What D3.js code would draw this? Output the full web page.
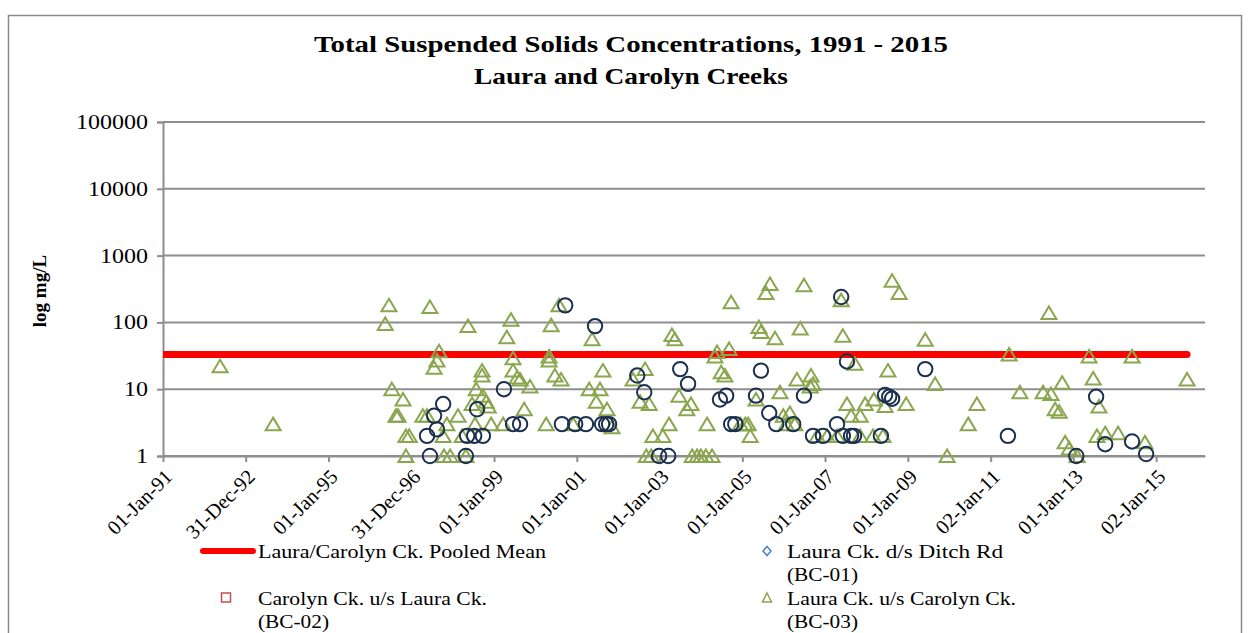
<!DOCTYPE html>
<html>
<head>
<meta charset="utf-8">
<script src="https://cdn.jsdelivr.net/npm/d3@7"></script>
<style>
  html, body { margin: 0; padding: 0; background: #fff; }
  svg { display: block; }
  text { font-family: "Liberation Serif", "DejaVu Serif", serif; fill: #000; }
</style>
</head>
<body>
<svg id="chart" width="1250" height="633"></svg>
<script>
// ---------------- DATA ----------------
const titleLines = ["Total Suspended Solids Concentrations, 1991 - 2015", "Laura and Carolyn Creeks"];
const yAxisTitle = "log mg/L";
const yTickValues = [1, 10, 100, 1000, 10000, 100000];
const xTickDates = ["1991-01-01","1992-12-31","1995-01-01","1996-12-31","1999-01-01","2001-01-01",
                    "2003-01-01","2005-01-01","2007-01-01","2009-01-01","2011-01-02","2013-01-01","2015-01-02"];
const xTickLabels = ["01-Jan-91","31-Dec-92","01-Jan-95","31-Dec-96","01-Jan-99","01-Jan-01",
                     "01-Jan-03","01-Jan-05","01-Jan-07","01-Jan-09","02-Jan-11","01-Jan-13","02-Jan-15"];
const xDomain = ["1991-01-01", "2016-03-08"];

// Pooled mean (mg/L) across the sampling period
const pooledMeanValue = 33;
const pooledMeanSpan = [1991.0, 2015.75];   // decimal years

// Laura Ck. d/s Ditch Rd (BC-01): sample dates (decimal years) and TSS (mg/L)
const bc01Year = [1997.38,1997.45,1997.55,1997.62,1997.77,1998.32,1998.35,1998.52,1998.59,1998.73,
                  1999.24,1999.46,1999.63,2000.64,2000.72,2000.96,2001.22,2001.44,2001.61,2001.71,
                  2001.78,2002.46,2002.63,2002.99,2003.21,2003.50,2003.69,2004.46,2004.61,2004.73,
                  2004.83,2005.33,2005.45,2005.65,2005.82,2006.23,2006.49,2006.71,2006.95,2007.29,
                  2007.39,2007.43,2007.53,2007.63,2007.70,2008.35,2008.45,2008.55,2008.62,2009.42,
                  2011.42,2013.07,2013.55,2013.77,2014.42,2014.76];
const bc01Value = [2,1,4,2.5,6,1,2,2,5,2,
                   10,3,3,3,180,3,3,88,3,3,
                   3,16,9,1,1,20,12,7,8,3,
                   3,8,19,4.4,3,3,8,2,2,3,
                   240,2,26,2,2,2,8.2,7.7,7.2,20,
                   2,1,7.7,1.5,1.65,1.07];

// Carolyn Ck. u/s Laura Ck. (BC-02): no samples plotted
const bc02Year = [];
const bc02Value = [];

// Laura Ck. u/s Carolyn Ck. (BC-03): sample dates (decimal years) and TSS (mg/L)
const bc03Year = [1992.38,1993.66,1996.37,1996.46,1996.53,1996.63,1996.68,1996.80,1996.87,1996.95,
                  1996.87,1997.28,1997.38,1997.45,1997.55,1997.62,1997.67,1997.77,1997.86,1997.79,
                  1997.94,1998.13,1998.23,1998.32,1998.37,1998.47,1998.57,1998.54,1998.71,1998.71,
                  1998.73,1998.81,1998.86,1998.93,1999.22,1999.31,1999.41,1999.46,1999.46,1999.56,
                  1999.63,1999.73,1999.87,2000.26,2000.33,2000.33,2000.38,2000.57,2000.47,2000.62,
                  2000.91,2001.30,2001.37,2001.47,2001.56,2001.63,2001.73,2001.85,2002.36,2002.53,
                  2002.65,2002.75,2002.80,2002.68,2002.84,2003.08,2003.23,2003.30,2003.37,2003.47,
                  2003.66,2003.76,2003.79,2003.91,2004.00,2004.12,2004.27,2004.15,2004.34,2004.39,
                  2004.49,2004.58,2004.68,2004.73,2004.95,2005.07,2005.14,2005.19,2005.33,2005.40,
                  2005.45,2005.57,2005.67,2005.79,2005.91,2005.99,2006.06,2006.15,2006.27,2006.32,
                  2006.40,2006.49,2006.64,2006.66,2006.71,2006.81,2007.05,2007.29,2007.39,2007.43,
                  2007.53,2007.63,2007.72,2007.85,2007.85,2007.97,2008.16,2008.18,2008.40,2008.45,
                  2008.52,2008.62,2008.79,2008.96,2009.42,2009.66,2009.95,2010.46,2010.67,2011.45,
                  2011.71,2012.27,2012.41,2012.46,2012.56,2012.66,2012.73,2012.80,2012.90,2013.09,
                  2013.38,2013.48,2013.57,2013.62,2013.77,2014.08,2014.42,2014.73,2015.75];
const bc03Value = [22,3,95,180,10,4,4,7,2,2,
                   1,4,4,170,21,27,37,2,3,1,
                   1,4,2,1,88,6,10,3,19,16,
                   8,6.5,5.5,3,3,60,110,29,19,15,
                   14,5,11,3,31,27,91,180,16,14,
                   3,10,56,6.5,10,19,5,2.7,14,6.5,
                   20,6,1,1,2,2,3,65,56,8,
                   5,6,1,1,1,1,1,3,31,36,
                   18,16,40,200,3,3,3,2,7,85,
                   72,275,375,58,9,4,3,4.4,3,14,
                   81,360,11,16,12,2,2,2,215,63,
                   6,4,24,4,2,6,2,7,2,5.6,
                   19,420,275,6,55,12,1,3,6,33,
                   9,9,138,8.5,5,4.6,12.5,1.6,1.3,1,
                   31,14.5,2,5.5,2.2,2.2,31,1.6,14];

const legendItems = [
  {label: ["Laura/Carolyn Ck. Pooled Mean"], kind: "line"},
  {label: ["Laura Ck. d/s Ditch Rd", "(BC-01)"], kind: "diamond"},
  {label: ["Carolyn Ck. u/s Laura Ck.", "(BC-02)"], kind: "square"},
  {label: ["Laura Ck. u/s Carolyn Ck.", "(BC-03)"], kind: "triangle"}
];

// ---------------- HELPERS ----------------
function decYearToDate(y) {
  const yr = Math.floor(y);
  const start = new Date(yr, 0, 1), end = new Date(yr + 1, 0, 1);
  return new Date(start.getTime() + (y - yr) * (end - start));
}
const parse = d3.timeParse("%Y-%m-%d");
function fitText(sel, w) {
  sel.attr("textLength", w).attr("lengthAdjust", "spacingAndGlyphs");
}

// ---------------- LAYOUT ----------------
const svg = d3.select("#chart");
const plot = {left: 163, right: 1205, top: 122, bottom: 456};

const x = d3.scaleTime().domain(xDomain.map(parse)).range([plot.left, plot.right]);
const y = d3.scaleLog().domain([1, 100000]).range([plot.bottom, plot.top]);

const GREEN = "#8AA64E", NAVY = "#1B2F4F", GRID = "#8E8E8E";

// outer border
svg.append("rect").attr("x", 8.5).attr("y", 15.5).attr("width", 1233).attr("height", 640)
  .attr("fill", "none").attr("stroke", "#8a8a8a").attr("stroke-width", 1.5);

// title
const titleWidths = [634, 314];
titleLines.forEach((t, i) => {
  svg.append("text").attr("x", 631 - titleWidths[i] / 2).attr("y", 52 + i * 32)
    .attr("font-size", 24).attr("font-weight", "bold").text(t)
    .call(fitText, titleWidths[i]);
});

// y gridlines
svg.append("g").selectAll("line").data(yTickValues).join("line")
  .attr("x1", plot.left).attr("x2", plot.right)
  .attr("y1", d => y(d)).attr("y2", d => y(d))
  .attr("stroke", GRID).attr("stroke-width", 2);

// y axis
const yAxis = svg.append("g").attr("transform", `translate(${plot.left},0)`)
  .call(d3.axisLeft(y).tickValues(yTickValues).tickFormat(d3.format("d")).tickSize(6).tickPadding(9));
yAxis.select(".domain").attr("stroke", GRID).attr("stroke-width", 2);
yAxis.selectAll(".tick line").attr("stroke", GRID).attr("stroke-width", 2);
yAxis.selectAll(".tick text").attr("font-size", 20)
  .attr("font-family", "'Liberation Serif', serif").attr("fill", "#000")
  .each(function(d) {
    const n = String(d3.format("d")(d)).length;
    d3.select(this).attr("textLength", 12 * n).attr("lengthAdjust", "spacingAndGlyphs");
  });

// y axis title
svg.append("text").attr("transform", "translate(46,291) rotate(-90)").attr("text-anchor", "middle")
  .attr("font-size", 19).attr("font-weight", "bold").text(yAxisTitle);

// x axis
const xAxis = svg.append("g").attr("transform", `translate(0,${plot.bottom})`)
  .call(d3.axisBottom(x).tickValues(xTickDates.map(parse))
    .tickFormat((d, i) => xTickLabels[i]).tickSize(6).tickSizeOuter(0));
xAxis.select(".domain").attr("stroke", GRID).attr("stroke-width", 2);
xAxis.selectAll(".tick line").attr("stroke", GRID).attr("stroke-width", 2);
xAxis.selectAll(".tick text").attr("font-size", 20.5).attr("fill", "#000")
  .attr("font-family", "'Liberation Serif', serif")
  .attr("text-anchor", "end").attr("dy", "0.35em")
  .attr("transform", "translate(5,17) rotate(-45)").attr("y", 0).attr("x", 0);

// clip
svg.append("clipPath").attr("id", "clip").append("rect")
  .attr("x", plot.left).attr("y", plot.top - 20).attr("width", plot.right - plot.left).attr("height", plot.bottom - plot.top + 40);

const gData = svg.append("g").attr("clip-path", "url(#clip)");

// pooled mean line
gData.append("line")
  .attr("x1", x(decYearToDate(pooledMeanSpan[0]))).attr("x2", x(decYearToDate(pooledMeanSpan[1])))
  .attr("y1", y(pooledMeanValue)).attr("y2", y(pooledMeanValue))
  .attr("stroke", "#FF0000").attr("stroke-width", 7).attr("stroke-linecap", "round");

// triangle path
const tri = "M0,-6.5L7.5,6L-7.5,6Z";

// BC-03 triangles
const bc03 = bc03Year.map((d, i) => ({date: decYearToDate(d), v: bc03Value[i]}));
gData.append("g").selectAll("path").data(bc03).join("path")
  .attr("d", tri).attr("transform", d => `translate(${x(d.date)},${y(d.v)})`)
  .attr("fill", "none").attr("stroke", GREEN).attr("stroke-width", 2);

// BC-02 squares (none)
const bc02 = bc02Year.map((d, i) => ({date: decYearToDate(d), v: bc02Value[i]}));
gData.append("g").selectAll("rect").data(bc02).join("rect")
  .attr("x", d => x(d.date) - 6).attr("y", d => y(d.v) - 6).attr("width", 12).attr("height", 12)
  .attr("fill", "none").attr("stroke", "#C0504D").attr("stroke-width", 2);

// BC-01 circles
const bc01 = bc01Year.map((d, i) => ({date: decYearToDate(d), v: bc01Value[i]}));
gData.append("g").selectAll("circle").data(bc01).join("circle")
  .attr("cx", d => x(d.date)).attr("cy", d => y(d.v)).attr("r", 7.2)
  .attr("fill", "none").attr("stroke", NAVY).attr("stroke-width", 2);

// legend
const legPos = [
  {sx: 228, tx: 258, y: 551},
  {sx: 767, tx: 787, y: 551},
  {sx: 226, tx: 258, y: 598},
  {sx: 767, tx: 787, y: 598}
];
const legWidths = [[288], [216, 71], [229, 71], [229, 71]];
const gLeg = svg.append("g");
legendItems.forEach((item, i) => {
  const p = legPos[i];
  if (item.kind === "line") {
    gLeg.append("line").attr("x1", 203).attr("x2", 253).attr("y1", p.y).attr("y2", p.y)
      .attr("stroke", "#FF0000").attr("stroke-width", 6).attr("stroke-linecap", "round");
  } else if (item.kind === "diamond") {
    gLeg.append("path").attr("d", "M0,-4.5L4,0L0,4.5L-4,0Z").attr("transform", `translate(${p.sx},${p.y})`)
      .attr("fill", "none").attr("stroke", "#4F81BD").attr("stroke-width", 1.5);
  } else if (item.kind === "square") {
    gLeg.append("rect").attr("x", p.sx - 4.5).attr("y", p.y - 5).attr("width", 9).attr("height", 9)
      .attr("fill", "none").attr("stroke", "#C0504D").attr("stroke-width", 1.5);
  } else {
    gLeg.append("path").attr("d", "M0,-5L4.5,4L-4.5,4Z").attr("transform", `translate(${p.sx},${p.y})`)
      .attr("fill", "none").attr("stroke", GREEN).attr("stroke-width", 1.5);
  }
  item.label.forEach((t, j) => {
    gLeg.append("text").attr("x", p.tx).attr("y", p.y + j * 23).attr("dy", "0.35em")
      .attr("font-size", 19).text(t).call(fitText, legWidths[i][j]);
  });
});
</script>
</body>
</html>
